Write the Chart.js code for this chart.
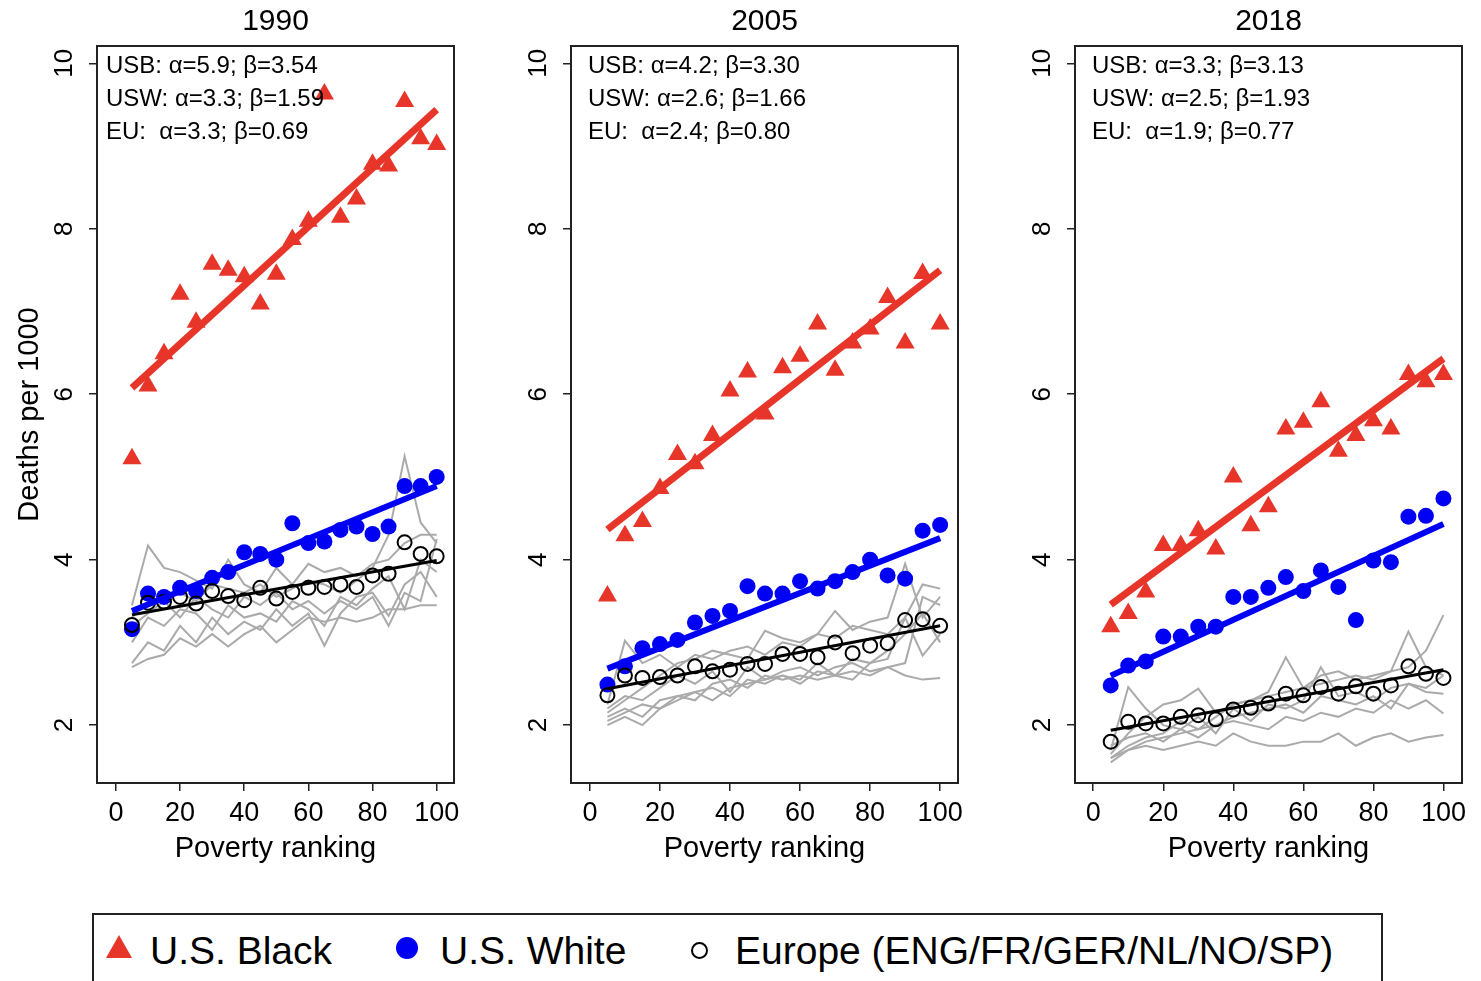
<!DOCTYPE html>
<html>
<head>
<meta charset="utf-8">
<script src="https://cdn.jsdelivr.net/npm/chart.js@4.4.1/dist/chart.umd.min.js"></script>
<style>
  body { margin: 0; background: #fff; width: 1481px; height: 981px; overflow: hidden; position: relative;
         font-family: "Liberation Sans", Arial, Helvetica, sans-serif; }
  canvas.panel { position: absolute; top: 0; }
  #legend { position: absolute; left: 92px; top: 913px; width: 1291px; height: 90px;
            border: 2px solid #222; box-sizing: border-box; }
  #legend .lab { position: absolute; top: 16px; font-size: 39px; line-height: 40px; color: #000; white-space: nowrap; }
  #legend .tri { position: absolute; left: 12px; top: 20px; width: 0; height: 0;
                 border-left: 13px solid transparent; border-right: 13px solid transparent; border-bottom: 23px solid #e8352a; }
  #legend .dot { position: absolute; left: 302px; top: 22px; width: 22px; height: 22px; border-radius: 50%; background: #0000f5; }
  #legend .ring { position: absolute; left: 597px; top: 27px; width: 17px; height: 17px; border-radius: 50%;
                  border: 2.5px solid #000; box-sizing: border-box; }
</style>
</head>
<body>
<canvas id="c1990" class="panel" style="left:0px" width="470" height="880"></canvas>
<canvas id="c2005" class="panel" style="left:480px" width="490" height="880"></canvas>
<canvas id="c2018" class="panel" style="left:985px" width="490" height="880"></canvas>
<div id="legend">
  <span class="tri"></span><span class="lab" style="left:56px">U.S. Black</span>
  <span class="dot"></span><span class="lab" style="left:346px">U.S. White</span>
  <span class="ring"></span><span class="lab" style="left:641px">Europe (ENG/FR/GER/NL/NO/SP)</span>
</div>
<script>
const FONT = '"Liberation Sans", Arial, Helvetica, sans-serif';

// poverty ranking of each group (x positions)
const RANKING = [5, 10, 15, 20, 25, 30, 35, 40, 45, 50, 55, 60, 65, 70, 75, 80, 85, 90, 95, 100];
const X_TICKS = [0, 20, 40, 60, 80, 100];
const Y_TICKS = [2, 4, 6, 8, 10];
const GROUPS = ['USB', 'USW', 'EU'];

// ---- 1990 ----
const USB_1990 = [5.22, 6.10, 6.49, 7.21, 6.87, 7.57, 7.50, 7.42, 7.09, 7.45, 7.87, 8.09, 9.63, 8.14, 8.36, 8.78, 8.76, 9.54, 9.09, 9.02];
const USW_1990 = [3.16, 3.59, 3.55, 3.66, 3.62, 3.78, 3.85, 4.09, 4.07, 4.00, 4.44, 4.20, 4.22, 4.36, 4.40, 4.31, 4.40, 4.89, 4.89, 5.00];
const EU_1990  = [3.21, 3.48, 3.49, 3.55, 3.47, 3.62, 3.56, 3.51, 3.66, 3.53, 3.61, 3.66, 3.67, 3.70, 3.67, 3.81, 3.83, 4.21, 4.07, 4.04];
const ALPHA_1990 = [5.9, 3.3, 3.3];
const BETA_1990  = [3.54, 1.59, 0.69];
const COUNTRIES_1990 = [
  [3.45, 4.17, 3.90, 3.85, 3.75, 3.65, 4.00, 3.70, 3.60, 3.90, 3.70, 3.95, 3.85, 3.90, 3.80, 3.95, 4.00, 4.20, 4.30, 4.30],
  [3.30, 3.50, 3.55, 3.60, 3.50, 3.70, 3.65, 3.60, 3.70, 3.55, 3.65, 3.75, 3.70, 3.60, 3.75, 3.90, 4.30, 5.25, 4.45, 4.20],
  [2.70, 2.80, 2.85, 3.05, 2.95, 3.10, 2.95, 3.10, 3.20, 3.00, 3.15, 3.30, 3.25, 3.30, 3.25, 3.30, 3.40, 3.40, 3.45, 3.45],
  [2.75, 3.00, 2.90, 3.20, 3.00, 3.30, 3.10, 3.25, 3.15, 3.40, 3.20, 3.35, 2.96, 3.35, 3.55, 3.60, 3.32, 3.70, 3.85, 3.55],
  [3.00, 3.30, 3.20, 3.40, 3.35, 3.15, 3.45, 3.30, 3.35, 3.25, 3.50, 3.40, 3.20, 3.55, 3.45, 3.65, 3.80, 3.40, 4.00, 3.85],
  [3.20, 3.35, 3.50, 3.30, 3.55, 3.40, 3.30, 3.55, 3.45, 3.60, 3.40, 3.50, 3.35, 3.50, 3.40, 3.55, 3.20, 3.60, 3.50, 4.25]
];

// ---- 2005 ----
const USB_2005 = [3.56, 4.29, 4.46, 4.86, 5.27, 5.16, 5.50, 6.04, 6.27, 5.76, 6.32, 6.46, 6.85, 6.29, 6.62, 6.79, 7.17, 6.62, 7.46, 6.85];
const USW_2005 = [2.49, 2.71, 2.93, 2.98, 3.03, 3.24, 3.32, 3.38, 3.68, 3.59, 3.59, 3.74, 3.65, 3.74, 3.85, 4.00, 3.81, 3.77, 4.35, 4.42];
const EU_2005  = [2.36, 2.60, 2.57, 2.58, 2.60, 2.71, 2.65, 2.67, 2.74, 2.74, 2.86, 2.86, 2.82, 3.00, 2.87, 2.96, 2.99, 3.27, 3.28, 3.20];
const ALPHA_2005 = [4.2, 2.6, 2.4];
const BETA_2005  = [3.30, 1.66, 0.80];
const COUNTRIES_2005 = [
  [2.25, 3.02, 2.75, 2.85, 2.70, 2.85, 2.80, 2.90, 2.95, 2.85, 3.00, 2.95, 3.10, 3.38, 3.15, 3.25, 3.30, 3.95, 3.30, 3.55],
  [2.15, 2.30, 2.45, 2.60, 2.75, 2.80, 2.90, 2.85, 2.80, 3.14, 3.05, 3.00, 3.10, 3.05, 3.20, 3.15, 3.10, 3.30, 3.70, 3.65],
  [2.10, 2.20, 2.10, 2.30, 2.35, 2.30, 2.50, 2.55, 2.45, 2.60, 2.55, 2.60, 2.55, 2.60, 2.65, 2.60, 2.70, 2.60, 2.55, 2.57],
  [2.05, 2.15, 2.25, 2.20, 2.35, 2.40, 2.30, 2.45, 2.50, 2.55, 2.60, 2.50, 2.65, 2.60, 2.55, 2.75, 2.80, 3.30, 2.84, 3.10],
  [2.00, 2.10, 2.00, 2.20, 2.30, 2.40, 2.45, 2.35, 2.55, 2.50, 2.60, 2.55, 2.75, 2.60, 2.80, 2.75, 2.90, 3.10, 3.35, 3.00],
  [2.20, 2.35, 2.30, 2.45, 2.60, 2.50, 2.65, 2.40, 2.70, 2.55, 2.65, 2.70, 2.60, 2.70, 2.75, 2.65, 2.70, 2.75, 3.55, 3.45]
];

// ---- 2018 ----
const USB_2018 = [3.19, 3.35, 3.61, 4.17, 4.17, 4.35, 4.13, 5.00, 4.41, 4.64, 5.58, 5.66, 5.91, 5.31, 5.50, 5.68, 5.58, 6.24, 6.15, 6.24];
const USW_2018 = [2.48, 2.72, 2.77, 3.07, 3.07, 3.19, 3.19, 3.55, 3.55, 3.66, 3.79, 3.62, 3.87, 3.67, 3.27, 3.99, 3.97, 4.52, 4.53, 4.74];
const EU_2018  = [1.80, 2.04, 2.02, 2.02, 2.10, 2.12, 2.07, 2.19, 2.21, 2.26, 2.38, 2.36, 2.46, 2.38, 2.47, 2.38, 2.48, 2.71, 2.62, 2.57];
const ALPHA_2018 = [3.3, 2.5, 1.9];
const BETA_2018  = [3.13, 1.93, 0.77];
const COUNTRIES_2018 = [
  [1.70, 2.46, 2.20, 2.00, 1.95, 2.10, 1.90, 2.20, 2.05, 2.25, 2.20, 2.30, 2.70, 2.35, 2.40, 2.30, 2.45, 2.50, 2.40, 2.38],
  [1.65, 1.90, 2.10, 2.25, 2.30, 2.44, 2.15, 2.25, 2.30, 2.40, 2.82, 2.45, 2.50, 2.55, 2.60, 2.55, 2.65, 2.70, 2.90, 3.33],
  [1.60, 1.75, 1.85, 1.90, 2.05, 1.95, 2.10, 2.25, 2.30, 2.35, 2.40, 2.45, 2.60, 2.65, 2.55, 2.60, 2.65, 3.13, 2.70, 2.60],
  [1.55, 1.70, 1.75, 1.70, 1.75, 1.80, 1.75, 1.90, 1.80, 1.75, 1.75, 1.80, 1.80, 1.90, 1.75, 1.85, 1.90, 1.80, 1.85, 1.88],
  [1.60, 1.70, 1.80, 1.85, 1.90, 1.95, 2.00, 2.05, 2.00, 1.95, 2.10, 2.05, 2.15, 2.10, 2.20, 2.15, 2.30, 2.20, 2.30, 2.14],
  [1.75, 1.85, 1.90, 1.80, 1.95, 1.85, 2.00, 2.10, 2.15, 2.20, 2.25, 2.15, 2.35, 2.30, 2.25, 2.35, 2.20, 2.50, 2.45, 2.60]
];

const RED = '#e8352a', BLUE = '#0000f5', GREY = '#aaaaaa';

function toPoints(ys) {
  return RANKING.map((x, i) => ({ x: x, y: ys[i] }));
}

// fitted line y = alpha + beta * ranking/100, drawn across the observed ranking range
function fitPoints(alpha, beta) {
  const x0 = RANKING[0], x1 = RANKING[RANKING.length - 1];
  return [{ x: x0, y: alpha + beta * x0 / 100 }, { x: x1, y: alpha + beta * x1 / 100 }];
}

function fitLabel(i, alpha, beta) {
  const sep = GROUPS[i] === 'EU' ? ':  ' : ': ';
  return GROUPS[i] + sep + 'α=' + alpha[i].toFixed(1) + '; β=' + beta[i].toFixed(2);
}

// frame, year title, rotated y tick labels, axis titles and coefficient text
const panelDecor = {
  id: 'panelDecor',
  afterDatasetsDraw(chart, args, opts) {
    const { ctx, chartArea: a, scales } = chart;
    ctx.save();
    ctx.strokeStyle = '#222';
    ctx.lineWidth = 2;
    ctx.strokeRect(a.left, a.top, a.right - a.left, a.bottom - a.top);

    ctx.fillStyle = '#000';
    ctx.textAlign = 'center';
    ctx.textBaseline = 'middle';
    ctx.font = '30px ' + FONT;
    ctx.fillText(opts.title, (a.left + a.right) / 2, 22);

    ctx.font = '29px ' + FONT;
    ctx.fillText('Poverty ranking', (a.left + a.right) / 2, 849);

    ctx.font = '26px ' + FONT;
    Y_TICKS.forEach(v => {
      ctx.save();
      ctx.translate(a.left - 32, scales.y.getPixelForValue(v));
      ctx.rotate(-Math.PI / 2);
      ctx.fillText(String(v), 0, 0);
      ctx.restore();
    });

    if (opts.yTitle) {
      ctx.save();
      ctx.font = '29px ' + FONT;
      ctx.translate(30, (a.top + a.bottom) / 2);
      ctx.rotate(-Math.PI / 2);
      ctx.fillText(opts.yTitle, 0, 0);
      ctx.restore();
    }

    ctx.textAlign = 'left';
    ctx.font = '24px ' + FONT;
    opts.fits.forEach((txt, i) => ctx.fillText(txt, a.left + opts.textInset, a.top + 20 + i * 33));
    ctx.restore();
  }
};

function makePanel(id, year, usb, usw, eu, countries, alpha, beta, xr, leftW, padRight, inset, yTitle) {
  const datasets = [];
  datasets.push({ data: fitPoints(alpha[0], beta[0]), showLine: true, borderColor: RED, borderWidth: 7, pointRadius: 0, order: 0 });
  datasets.push({ data: fitPoints(alpha[1], beta[1]), showLine: true, borderColor: BLUE, borderWidth: 6, pointRadius: 0, order: 0 });
  datasets.push({ data: fitPoints(alpha[2], beta[2]), showLine: true, borderColor: '#000', borderWidth: 3, pointRadius: 0, order: 0 });
  datasets.push({ data: toPoints(eu), pointStyle: 'circle', pointRadius: 7, borderWidth: 2,
                  borderColor: '#000', backgroundColor: 'rgba(0,0,0,0)', order: 1 });
  datasets.push({ data: toPoints(usw), pointStyle: 'circle', pointRadius: 8, borderWidth: 0,
                  backgroundColor: BLUE, borderColor: BLUE, order: 2 });
  datasets.push({ data: toPoints(usb), pointStyle: 'triangle', pointRadius: 11, borderWidth: 0,
                  backgroundColor: RED, borderColor: RED, order: 3 });
  countries.forEach(c => {
    datasets.push({ data: toPoints(c), showLine: true, borderColor: GREY, borderWidth: 2,
                    pointRadius: 0, tension: 0, order: 4 });
  });

  const tickGrid = { drawOnChartArea: false, drawTicks: true, tickLength: 8, color: '#222', lineWidth: 1.5 };

  return new Chart(document.getElementById(id), {
    type: 'scatter',
    data: { datasets: datasets },
    options: {
      responsive: false,
      animation: false,
      events: [],
      layout: { padding: { top: 46, right: padRight, left: 0, bottom: 0 } },
      plugins: {
        legend: { display: false },
        tooltip: { enabled: false },
        panelDecor: {
          title: year,
          yTitle: yTitle,
          textInset: inset,
          fits: GROUPS.map((g, i) => fitLabel(i, alpha, beta))
        }
      },
      scales: {
        x: {
          type: 'linear', min: xr[0], max: xr[1],
          afterBuildTicks: s => { s.ticks = X_TICKS.map(v => ({ value: v })); },
          afterFit: s => { s.height = 97; },
          grid: tickGrid,
          border: { display: false },
          ticks: { color: '#000', font: { family: FONT, size: 27 }, padding: 6, maxRotation: 0, autoSkip: false }
        },
        y: {
          type: 'linear', min: 1.30, max: 10.21,
          afterBuildTicks: s => { s.ticks = Y_TICKS.map(v => ({ value: v })); },
          afterFit: s => { s.width = leftW; },
          grid: tickGrid,
          border: { display: false },
          ticks: { display: false }
        }
      }
    },
    plugins: [panelDecor]
  });
}

makePanel('c1990', '1990', USB_1990, USW_1990, EU_1990, COUNTRIES_1990, ALPHA_1990, BETA_1990, [-5.9, 105.4], 97, 16, 9, 'Deaths per 1000');
makePanel('c2005', '2005', USB_2005, USW_2005, EU_2005, COUNTRIES_2005, ALPHA_2005, BETA_2005, [-5.4, 105.1], 91, 12, 17, null);
makePanel('c2018', '2018', USB_2018, USW_2018, EU_2018, COUNTRIES_2018, ALPHA_2018, BETA_2018, [-5.2, 105.3], 90, 13, 17, null);
</script>
</body>
</html>
